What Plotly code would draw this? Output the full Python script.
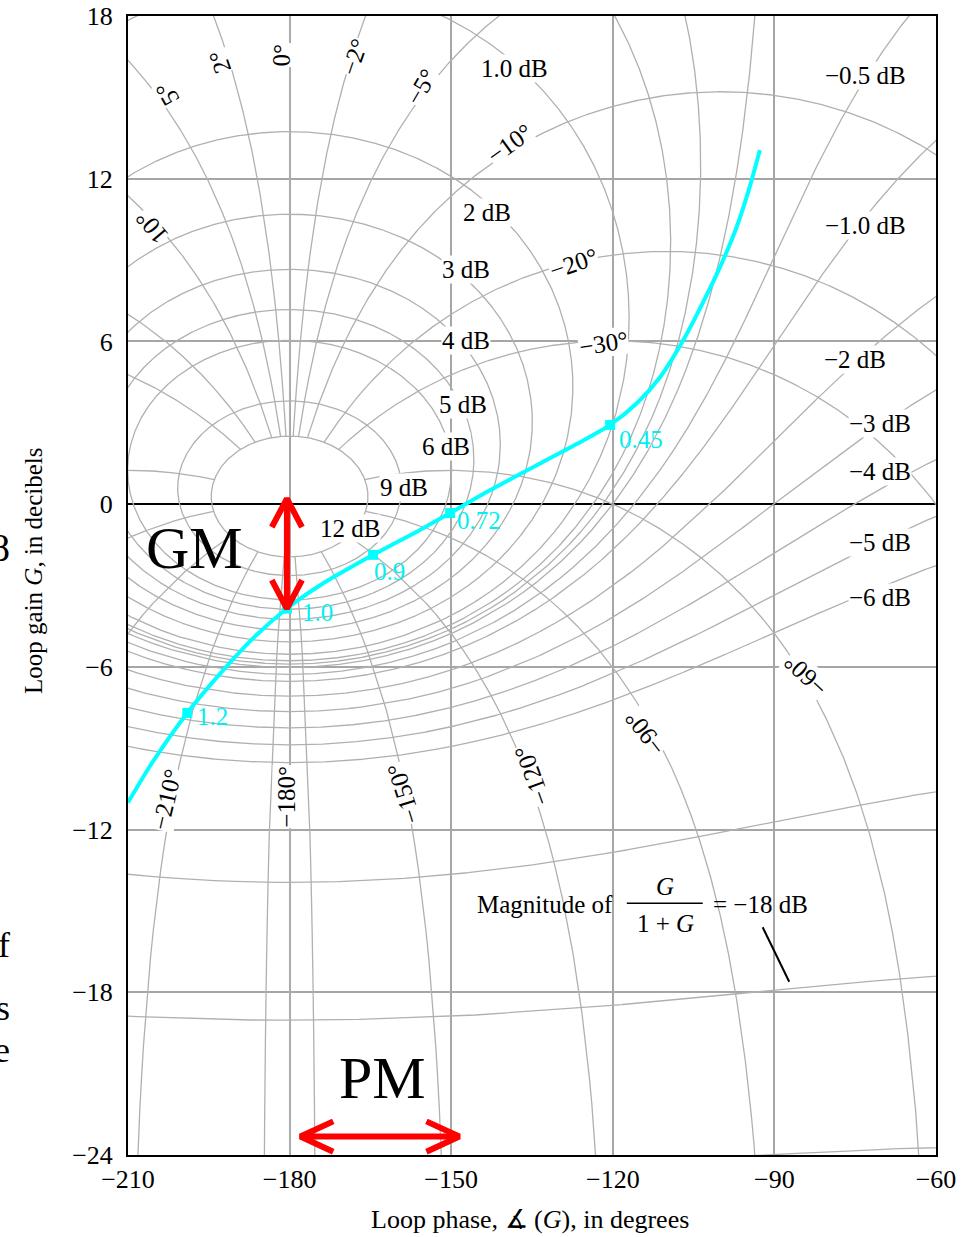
import numpy as np
import plotly.graph_objects as go

# ---------------- data ----------------
loop_phase_deg = [-210.0, -205.4, -199.0, -192.9, -186.8, -180.5, -174.4, -164.5,
                  -155.8, -150.2, -143.4, -133.5, -124.8, -120.5, -115.5, -111.2,
                  -106.9, -103.3, -100.1, -97.0, -94.6, -92.7]
loop_gain_db = [-11.0, -9.5, -7.7, -6.25, -4.95, -3.85, -3.0, -1.87,
                -0.95, -0.33, 0.45, 1.5, 2.42, 2.92, 3.73, 4.69,
                6.05, 7.42, 8.74, 10.22, 11.69, 13.06]

freq_phase_deg = [-199.0, -180.5, -164.5, -150.2, -120.5]
freq_gain_db = [-7.7, -3.85, -1.87, -0.33, 2.92]
freq_labels = ["1.2", "1.0", "0.9", "0.72", "0.45"]

# closed-loop magnitude (dB) and phase (deg) contours of the Nichols grid
m_levels_db = [12, 9, 6, 5, 4, 3, 2, 1, 0.5, 0.25, 0, -0.5, -1, -2, -3, -4, -5, -6, -12, -18, -24]
alpha_levels_deg = [0, 2, -2, 5, -5, 10, -10, 20, -20, 30, -30, 60, -60, 90, -90,
                    120, -120, 150, -150, 175, -175, 180]
alpha_max_mag_db = 12   # phase contours stop at the innermost magnitude contour

x_ticks = [-210, -180, -150, -120, -90, -60]
y_ticks = [18, 12, 6, 0, -6, -12, -18, -24]

gm_span_db = [0.2, -3.85]      # gain margin arrow (at -180 deg)
pm_span_deg = [-178.0, -148.5]  # phase margin arrow

# ---------------- helpers ----------------
def to_nichols(G):
    ph = np.degrees(np.angle(G))
    ph = np.where(ph > 0, ph - 360, ph)
    with np.errstate(divide="ignore"):
        gd = 20 * np.log10(np.abs(G))
    gd = np.where((gd > 45) | (gd < -45), np.nan, gd)
    ph = np.where(np.isnan(gd), np.nan, ph)
    xs, ys = [], []
    prev = None
    for p, g in zip(ph, gd):
        if prev is not None and not np.isnan(p) and not np.isnan(prev) and abs(p - prev) > 90:
            xs.append(None); ys.append(None)
        xs.append(None if np.isnan(p) else float(p))
        ys.append(None if np.isnan(g) else float(g))
        prev = p
    xs.append(None); ys.append(None)
    return xs, ys

mx, my = [], []
alpha = np.linspace(-np.pi, np.pi, 6000)
for mdb in m_levels_db:
    m = 10 ** (mdb / 20)
    T = m * np.exp(1j * alpha)
    with np.errstate(divide="ignore", invalid="ignore"):
        G = T / (1 - T)
    a, b = to_nichols(G)
    mx += a; my += b

px_, py_ = [], []
mags = np.logspace(-4, alpha_max_mag_db / 20, 8001)
for adeg in alpha_levels_deg:
    T = mags * np.exp(1j * np.radians(adeg))
    with np.errstate(divide="ignore", invalid="ignore"):
        G = T / (1 - T)
    a, b = to_nichols(G)
    px_ += a; py_ += b

CONTOUR = "#b0b0b0"
SERIF = "Liberation Serif, Times New Roman, serif"

fig = go.Figure()
fig.add_trace(go.Scatter(x=mx, y=my, mode="lines", line=dict(color=CONTOUR, width=1.3),
                         hoverinfo="skip", showlegend=False))
fig.add_trace(go.Scatter(x=px_, y=py_, mode="lines", line=dict(color=CONTOUR, width=1.3),
                         hoverinfo="skip", showlegend=False))

# ---------------- annotations: contour labels ----------------
ann = []
def lab(text, x, y, angle=0, size=25):
    ann.append(dict(x=x, y=y, xref="x", yref="y", text=text, showarrow=False,
                    textangle=angle, font=dict(family=SERIF, size=size, color="black"),
                    bgcolor="white", borderpad=0, xanchor="center", yanchor="middle"))

mag_labels = [("1.0 dB", -138.3, 16.05), ("\u22120.5 dB", -73.0, 15.82), ("2 dB", -143.4, 10.74),
              ("\u22121.0 dB", -73.0, 10.29), ("3 dB", -147.3, 8.67), ("4 dB", -147.3, 6.05),
              ("\u22122 dB", -75.0, 5.32), ("5 dB", -147.8, 3.69), ("\u22123 dB", -70.4, 2.96),
              ("6 dB", -151.0, 2.14), ("\u22124 dB", -70.4, 1.19), ("9 dB", -158.8, 0.63),
              ("12 dB", -168.8, -0.88), ("\u22125 dB", -70.4, -1.43), ("\u22126 dB", -70.4, -3.46)]
for t, x, y in mag_labels:
    lab(t, x, y)

phase_labels = [("5\u00b0", -202.8, 15.15, -120), ("2\u00b0", -192.9, 16.31, -109),
                ("0\u00b0", -181.5, 16.56, -90), ("\u22122\u00b0", -167.9, 16.5, -71),
                ("\u22125\u00b0", -155.5, 15.39, -60), ("\u221210\u00b0", -139.1, 13.31, -36),
                ("10\u00b0", -205.6, 10.23, -130), ("\u221220\u00b0", -127.3, 8.88, -19),
                ("\u221230\u00b0", -121.8, 5.93, -9), ("\u221260\u00b0", -84.1, -6.3, -137),
                ("\u221290\u00b0", -114.0, -8.45, -128), ("\u2212120\u00b0", -135.0, -10.0, -110),
                ("\u2212150\u00b0", -158.9, -10.66, -107), ("\u2212180\u00b0", -180.5, -10.79, -90),
                ("\u2212210\u00b0", -202.8, -10.9, -77)]
for t, x, y, a in phase_labels:
    lab(t, x, y, a)

# Magnitude of G/(1+G) = -18 dB
def txt(t, x, y, size=25, anchor="center"):
    ann.append(dict(x=x, y=y, xref="x", yref="y", text=t, showarrow=False,
                    font=dict(family=SERIF, size=size, color="black"),
                    xanchor=anchor, yanchor="middle"))
txt("Magnitude of", -119.6, -14.75, anchor="right")
txt("<i>G</i>", -110.3, -14.1)
txt("1 + <i>G</i>", -110.3, -15.45)
txt("= \u221218 dB", -101.8, -14.75, anchor="left")

# frequency labels (cyan)
offs = [(8, 4), (13, 4), (-1, 17), (5, 7), (7, 15)]
for (x, y, t), (dx, dy) in zip(zip(freq_phase_deg, freq_gain_db, freq_labels), offs):
    ann.append(dict(x=x, y=y, xref="x", yref="y", text=t, showarrow=False, xanchor="left",
                    yanchor="middle", xshift=dx, yshift=-dy,
                    font=dict(family=SERIF, size=25, color="#00f0f0")))

# GM / PM big text
txt("GM", -197.6, -1.62, size=60)
txt("PM", -162.7, -21.16, size=60)

# axis titles
ann.append(dict(x=0.4975, y=-0.057, xref="paper", yref="paper", showarrow=False,
                text="Loop phase, \u2221 (<i>G</i>), in degrees",
                font=dict(family=SERIF, size=26, color="black"), xanchor="center", yanchor="middle"))
ann.append(dict(x=-0.1176, y=0.5136, xref="paper", yref="paper", showarrow=False, textangle=-90,
                text="Loop gain <i>G</i>, in decibels",
                font=dict(family=SERIF, size=25, color="black"), xanchor="center", yanchor="middle"))

# cropped page-text fragments at the left edge
for t, yy, sz in [("8", 0.533, 40), ("f", 0.184, 36), ("es", 0.129, 36), ("e", 0.092, 36)]:
    ann.append(dict(x=-0.1436, y=yy, xref="paper", yref="paper", text=t, showarrow=False,
                    font=dict(family=SERIF, size=sz, color="black"), xanchor="right", yanchor="middle"))

# ---------------- loop curve ----------------
fig.add_trace(go.Scatter(x=loop_phase_deg, y=loop_gain_db, mode="lines",
                         line=dict(color="#00ffff", width=4, shape="spline", smoothing=0.8),
                         hoverinfo="skip", showlegend=False))
fig.add_trace(go.Scatter(x=freq_phase_deg, y=freq_gain_db, mode="markers",
                         marker=dict(color="#00ffff", size=10, symbol="square"),
                         hoverinfo="skip", showlegend=False))

# ---------------- GM / PM arrows ----------------
RED = "#ff0000"
gx = freq_phase_deg[1]
top, bot = gm_span_db
hw, hh = 2.8, 1.05
fig.add_trace(go.Scatter(
    x=[gx - hw, gx, gx + hw, None, gx, gx, None, gx - hw, gx, gx + hw],
    y=[top - hh, top, top - hh, None, top, bot, None, bot + hh, bot, bot + hh],
    mode="lines", line=dict(color=RED, width=6), hoverinfo="skip", showlegend=False))
left, right = pm_span_deg
py0 = -23.32
aw, ah = 6.1, 0.56
fig.add_trace(go.Scatter(
    x=[left + aw, left, left + aw, None, left, right, None, right - aw, right, right - aw],
    y=[py0 + ah, py0, py0 - ah, None, py0, py0, None, py0 + ah, py0, py0 - ah],
    mode="lines", line=dict(color=RED, width=6), hoverinfo="skip", showlegend=False))

# leader line for -18 dB label and fraction bar
shapes = [
    dict(type="line", xref="x", yref="y", x0=-92.18, y0=-15.6, x1=-87.25, y1=-17.61,
         line=dict(color="black", width=2)),
    dict(type="line", xref="x", yref="y", x0=-117.4, y0=-14.72, x1=-103.3, y1=-14.72,
         line=dict(color="black", width=1.5)),
]

fig.update_layout(
    width=973, height=1237,
    margin=dict(l=128, r=37, t=16, b=82, autoexpand=False),
    paper_bgcolor="white", plot_bgcolor="white",
    annotations=ann, shapes=shapes,
    xaxis=dict(range=[-210, -60], tickvals=x_ticks, automargin=False,
               ticktext=[("\u2212%d" % -v) for v in x_ticks],
               showgrid=True, gridcolor="#a6a6a6", gridwidth=1.6, zeroline=False,
               showline=True, mirror=True, linecolor="black", linewidth=2,
               ticks="", tickfont=dict(family=SERIF, size=26, color="black")),
    yaxis=dict(range=[-24, 18], tickvals=y_ticks, automargin=False,
               ticktext=[("\u2212%d" % -v) if v < 0 else str(v) for v in y_ticks],
               showgrid=True, gridcolor="#a6a6a6", gridwidth=1.6,
               zeroline=True, zerolinecolor="black", zerolinewidth=2,
               showline=True, mirror=True, linecolor="black", linewidth=2,
               ticks="", ticklabelstandoff=8,
               tickfont=dict(family=SERIF, size=26, color="black")),
)

fig.write_html("out.html", config={"displayModeBar": False},
               post_script="document.body.style.margin='0';document.body.style.overflow='hidden';")
